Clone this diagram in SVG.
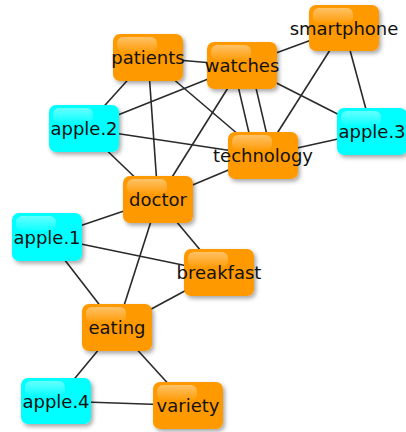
<svg xmlns="http://www.w3.org/2000/svg" width="406" height="432" viewBox="0 0 406 432">
<defs>
<filter id="sh" x="-20%" y="-20%" width="150%" height="150%">
<feDropShadow dx="2" dy="2.5" stdDeviation="2" flood-color="#000" flood-opacity="0.35"/>
</filter>
<linearGradient id="gl" x1="0" y1="0" x2="0" y2="1">
<stop offset="0" stop-color="#fff" stop-opacity="0.4"/>
<stop offset="1" stop-color="#fff" stop-opacity="0.04"/>
</linearGradient>
</defs>
<style>
.e line{stroke:#2a2a2a;stroke-width:1.6;fill:none}
.box{filter:url(#sh)}
.o{fill:#ff9900}
.c{fill:#00ffff}
.g{fill:url(#gl)}
text{font-family:"DejaVu Sans",sans-serif;font-size:18px;fill:#111;text-anchor:middle;dominant-baseline:central}
</style>
<rect width="406" height="432" fill="#fff"/>
<g id="connectors" class="e">
<line x1="148" y1="57.5" x2="242" y2="65.5"/>
<line x1="148" y1="57.5" x2="84" y2="128.5"/>
<line x1="148" y1="57.5" x2="158" y2="199.5"/>
<line x1="148" y1="57.5" x2="263" y2="155.5"/>
<line x1="242" y1="65.5" x2="84" y2="128.5"/>
<line x1="242" y1="65.5" x2="158" y2="199.5"/>
<line x1="233.7" y1="67.4" x2="254.7" y2="157.4"/>
<line x1="250.3" y1="63.6" x2="271.3" y2="153.6"/>
<line x1="242" y1="65.5" x2="344" y2="28"/>
<line x1="242" y1="65.5" x2="372" y2="131.5"/>
<line x1="344" y1="28" x2="263" y2="155.5"/>
<line x1="344" y1="28" x2="372" y2="131.5"/>
<line x1="372" y1="131.5" x2="263" y2="155.5"/>
<line x1="84" y1="128.5" x2="263" y2="155.5"/>
<line x1="84" y1="128.5" x2="158" y2="199.5"/>
<line x1="263" y1="155.5" x2="158" y2="199.5"/>
<line x1="158" y1="199.5" x2="47" y2="237"/>
<line x1="158" y1="199.5" x2="219" y2="272.5"/>
<line x1="158" y1="199.5" x2="117" y2="327.5"/>
<line x1="47" y1="237" x2="219" y2="272.5"/>
<line x1="47" y1="237" x2="117" y2="327.5"/>
<line x1="219" y1="272.5" x2="117" y2="327.5"/>
<line x1="117" y1="327.5" x2="56" y2="401"/>
<line x1="117" y1="327.5" x2="188" y2="405.5"/>
<line x1="56" y1="401" x2="188" y2="405.5"/>
</g>
<g id="patients"><rect class="box o" x="113" y="34" width="70" height="47" rx="7"/><rect class="g" x="117" y="37" width="40" height="15" rx="6"/><text x="148" y="57.5">patients</text></g>
<g id="watches"><rect class="box o" x="207" y="42" width="70" height="47" rx="7"/><rect class="g" x="211" y="45" width="40" height="15" rx="6"/><text x="242" y="65.5">watches</text></g>
<g id="smartphone"><rect class="box o" x="309" y="5" width="70" height="46" rx="7"/><rect class="g" x="313" y="8" width="40" height="15" rx="6"/><text x="344" y="28">smartphone</text></g>
<g id="apple3"><rect class="box c" x="337" y="108" width="70" height="47" rx="7"/><rect class="g" x="341" y="111" width="40" height="15" rx="6"/><text x="372" y="131.5">apple.3</text></g>
<g id="technology"><rect class="box o" x="228" y="132" width="70" height="47" rx="7"/><rect class="g" x="232" y="135" width="40" height="15" rx="6"/><text x="263" y="155.5">technology</text></g>
<g id="apple2"><rect class="box c" x="49" y="105" width="70" height="47" rx="7"/><rect class="g" x="53" y="108" width="40" height="15" rx="6"/><text x="84" y="128.5">apple.2</text></g>
<g id="doctor"><rect class="box o" x="123" y="176" width="70" height="47" rx="7"/><rect class="g" x="127" y="179" width="40" height="15" rx="6"/><text x="158" y="199.5">doctor</text></g>
<g id="apple1"><rect class="box c" x="12" y="213" width="70" height="48" rx="7"/><rect class="g" x="16" y="216" width="40" height="15" rx="6"/><text x="47" y="237">apple.1</text></g>
<g id="breakfast"><rect class="box o" x="184" y="249" width="70" height="47" rx="7"/><rect class="g" x="188" y="252" width="40" height="15" rx="6"/><text x="219" y="272.5">breakfast</text></g>
<g id="eating"><rect class="box o" x="82" y="304" width="70" height="47" rx="7"/><rect class="g" x="86" y="307" width="40" height="15" rx="6"/><text x="117" y="327.5">eating</text></g>
<g id="apple4"><rect class="box c" x="21" y="378" width="70" height="46" rx="7"/><rect class="g" x="25" y="381" width="40" height="15" rx="6"/><text x="56" y="401">apple.4</text></g>
<g id="variety"><rect class="box o" x="153" y="382" width="70" height="47" rx="7"/><rect class="g" x="157" y="385" width="40" height="15" rx="6"/><text x="188" y="405.5">variety</text></g>
</svg>
